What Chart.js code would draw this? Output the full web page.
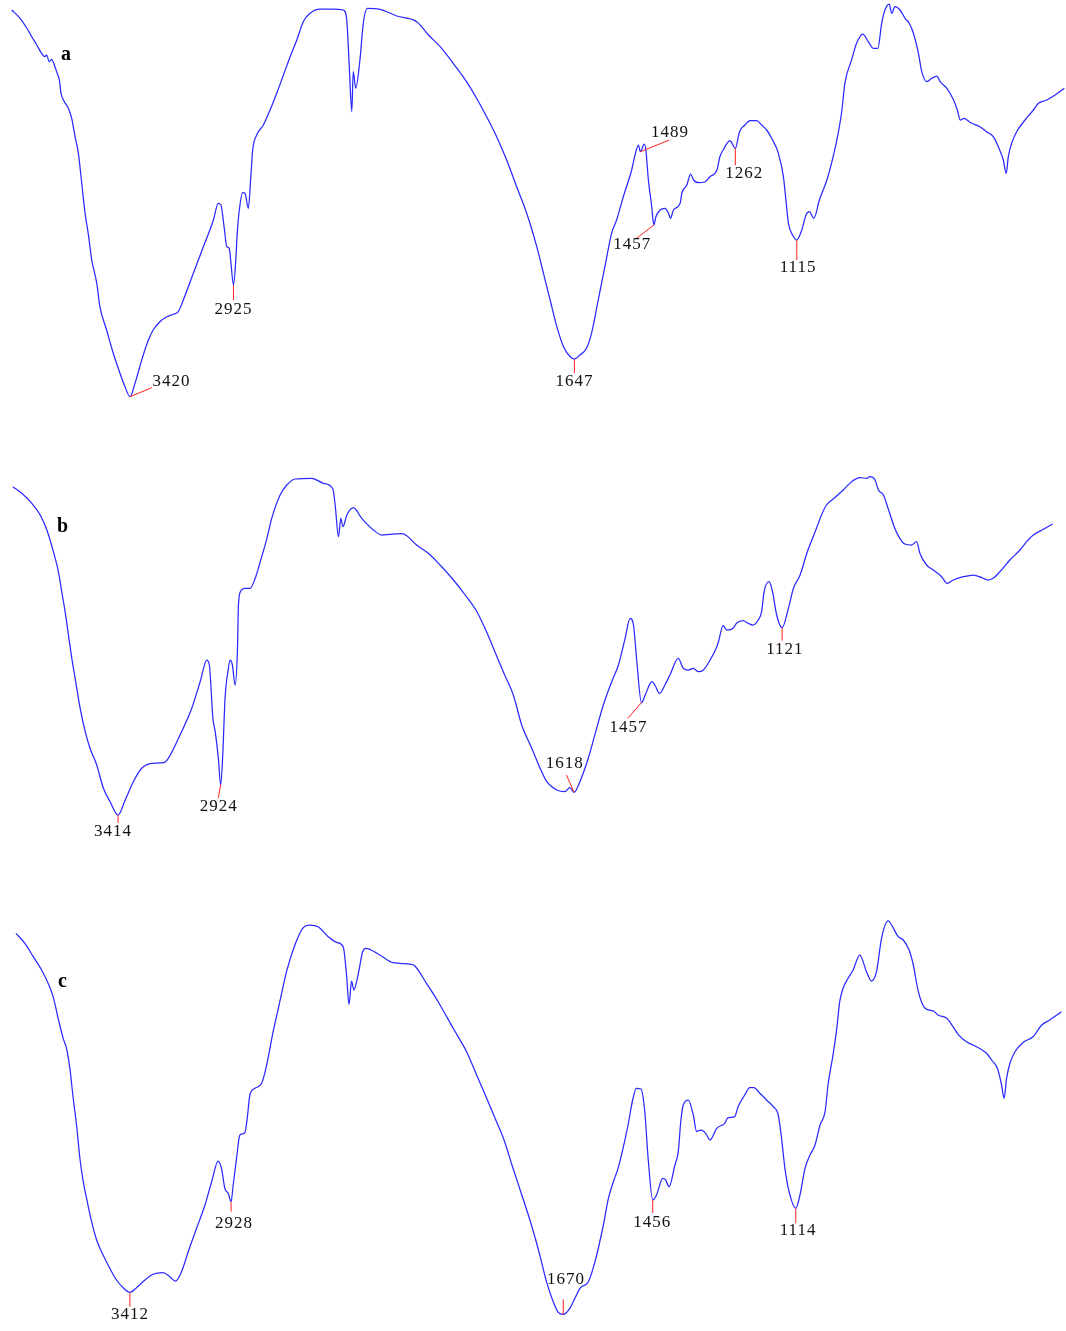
<!DOCTYPE html>
<html>
<head>
<meta charset="utf-8">
<title>FTIR spectra a, b, c</title>
<script src="https://cdn.jsdelivr.net/npm/chart.js@4.4.1/dist/chart.umd.min.js"></script>
<style>
  html, body { margin: 0; padding: 0; background: #ffffff; }
  #wrap { position: relative; width: 1066px; height: 1331px; overflow: hidden; }
  #wrap canvas { position: absolute; left: 0; }
</style>
</head>
<body>
<div id="wrap">
  <canvas id="specA" width="1066" height="420" style="top:0px"></canvas>
  <canvas id="specB" width="1066" height="420" style="top:450px"></canvas>
  <canvas id="specC" width="1066" height="431" style="top:900px"></canvas>
</div>
<script>
// ---- Spectrum a: wavenumber (cm-1) and transmittance (a.u.) ----
const aWavenumber = [3986,3946,3914,3890,3866,3843,3827,3819,3806,3795,3782,3771,3758,3750,3734,3715,3699,3683,3667,3651,3635,3620,3603,3579,3564,3532,3500,3468,3444,3420,3396,3364,3332,3309,3277,3244,3213,3189,3165,3117,3069,3021,2998,2985,2970,2957,2945,2937,2925,2914,2907,2897,2881,2870,2854,2842,2833,2814,2782,2750,2718,2686,2654,2622,2591,2559,2511,2447,2399,2383,2371,2359,2352,2340,2320,2304,2285,2224,2144,2048,1996,1968,1937,1905,1881,1857,1833,1809,1785,1761,1737,1721,1705,1689,1673,1657,1647,1634,1618,1606,1590,1574,1558,1546,1530,1510,1502,1494,1489,1480,1476,1470,1462,1457,1452,1442,1430,1422,1417,1410,1394,1390,1378,1369,1362,1350,1334,1323,1306,1299,1291,1275,1262,1252,1239,1227,1211,1199,1187,1175,1159,1147,1141,1135,1125,1115,1103,1093,1085,1074,1061,1043,1028,1016,1007,1000,984,972,957,944,932,921,912,904,894,888,880,868,856,846,836,824,816,804,792,780,772,756,740,731,724,715,708,696,677,661,645,633,621,614,609,601,589,569,549,537,517,497,475];
const aTransmittance = [410,401.7,392,383.3,375,366.7,363.3,365,358.3,360.7,355,348.3,340,326.7,318.3,311.7,301.7,283.3,266.7,236.7,206.7,186.7,160,136.7,113.3,90,66.7,46.7,33.3,23.3,36.7,60,80,90,98.3,103.3,105.7,108.3,120,146.7,173.3,200,216.7,215,193.3,173.3,171.7,156.7,135,160,186.7,210,227.3,226.7,211.7,243.3,270,285,295,310,326.7,345,363.3,380,398.3,406.7,411,411,410,400,353.3,308.3,348.3,331.7,360,396.7,411.7,410.7,404,398.3,385,373.3,356.7,338.3,321.7,303.3,283.3,260,233.3,206.7,173.3,146.7,120,93.3,73.3,63.3,61,65,71.7,86.7,120,153.3,186.7,200,223.3,250,265,275,268.3,276,270,240,213.3,195,203.3,210,211.7,206.7,201.7,210,216.7,226.7,235,246,240,237.3,238.3,243.3,250,263.3,270,279.3,271.7,288.3,295,299.3,299.3,295,290,281.7,266.7,243.3,220,196.7,185,180,190,205,208.3,201.7,220,240,263.3,286.7,310,336.7,360,376.7,386,378.3,371.7,371.7,396.7,410,416,406.7,413.3,410,401.7,396.7,386.7,366.7,348.3,338.3,341.7,344,338.3,331.7,320,310,300,301.7,300,296.7,293.3,288.3,283.3,273.3,260,246.7,263.3,276.7,288.3,300,310,316.7,320,325,331.7];
const aPeaks = [3420, 2925, 1647, 1489, 1457, 1262, 1115];

// ---- Spectrum b ----
const bWavenumber = [3917,3874,3826,3786,3754,3723,3699,3683,3667,3651,3635,3619,3595,3571,3548,3516,3484,3452,3414,3380,3341,3301,3253,3197,3174,3118,3062,3022,2990,2978,2961,2950,2935,2924,2914,2903,2887,2879,2868,2855,2844,2839,2828,2807,2783,2759,2735,2703,2680,2640,2608,2568,2488,2433,2388,2377,2361,2350,2340,2321,2290,2250,2194,2154,2114,2059,2035,1994,1966,1938,1906,1878,1850,1827,1807,1787,1763,1743,1719,1699,1683,1659,1640,1628,1618,1604,1584,1564,1548,1528,1512,1496,1484,1476,1468,1457,1448,1432,1425,1414,1401,1389,1369,1357,1345,1333,1321,1309,1293,1277,1273,1262,1253,1238,1230,1214,1202,1191,1178,1170,1164,1152,1144,1134,1121,1106,1094,1078,1062,1050,1039,1027,1015,999,975,955,935,919,911,899,891,879,868,852,840,828,812,800,792,776,760,740,727,712,688,664,644,629,617,601,577,553,537,521,497,475];
const bTransmittance = [383.3,376.7,366.7,355,340,318.3,298.3,278.3,258.3,235,211.7,191.7,161.7,138.3,121.7,105,81.7,68.3,55,70,88.3,101.7,106.7,107.3,111.7,135,161.7,188.3,210,205,151.7,138.3,111.7,85,115,171.7,201.7,210,205,185,218.3,265,279,281.7,281.7,291.7,308.3,331.7,351.7,375,385,391,391.7,386.7,381,365,333.3,351.7,343.3,355,362.3,351.7,340,335,335.7,336.3,334.3,325,316.7,305,290,275,258.3,238.3,218.3,198.3,175,145,121.7,101.7,88.3,80,78.3,82.3,77.7,88.3,111.7,141.7,165,188.3,205,231.7,251.7,245,208.3,167.3,175,188.3,185,176.7,185,195,211.7,201.7,200,201.7,198.3,200,210,223.3,228.3,244.3,240,241.7,246.7,249.3,246.7,245,250,258.3,278.3,288.3,278.3,255,242.3,261.7,281.7,295,316.7,330,341.7,355,365,371,380,388.3,392.3,391.7,393.3,390,380,375,361.7,341.7,331.7,326,325,328.3,316.7,305,300,293.3,286.7,290,293.3,295,292.3,290,291.7,298.3,310,320,328.3,335,340.7,346];
const bPeaks = [3414, 2924, 1618, 1457, 1121];

// ---- Spectrum c ----
const cWavenumber = [3957,3914,3874,3834,3803,3779,3755,3731,3715,3699,3683,3667,3651,3635,3619,3595,3571,3540,3508,3476,3444,3412,3380,3340,3301,3253,3221,3194,3165,3133,3093,3053,3021,2990,2974,2958,2942,2928,2918,2902,2886,2862,2851,2838,2814,2782,2758,2727,2695,2663,2623,2583,2551,2512,2464,2424,2392,2376,2364,2352,2341,2320,2299,2284,2217,2153,2065,2049,1997,1969,1933,1901,1877,1853,1833,1813,1790,1769,1746,1726,1710,1694,1682,1670,1654,1642,1630,1610,1594,1574,1562,1550,1539,1527,1515,1504,1495,1484,1475,1467,1456,1447,1432,1425,1417,1403,1395,1389,1383,1371,1359,1351,1343,1335,1327,1319,1303,1284,1276,1260,1252,1236,1224,1214,1200,1184,1168,1156,1148,1140,1130,1114,1104,1092,1080,1068,1056,1044,1037,1025,1016,1009,1001,989,977,961,945,933,921,909,893,885,869,857,843,833,821,805,785,774,753,738,726,706,682,658,646,632,622,616,610,602,590,570,547,526,507,479];
const cTransmittance = [397.7,387.7,374.3,361,347.7,334.3,312.7,292.7,282.7,262.7,232.7,206,172.7,149.3,132.7,109.3,91,76,62.7,51,43.3,38.7,43.3,51,56.7,58.3,54.3,50,59.3,79.3,102.7,126,149.3,170,162.7,142.7,137.7,129.3,146,172.7,196,198.3,212.7,236,242.7,247.7,266,299.3,329.3,359.3,386,403.3,406,404.3,394.3,388.7,384.3,356,326.7,350,341,357,379.3,382.7,376,368.3,366.7,365,347.7,329.3,302.7,279.3,256,232.7,212.7,192.7,162.7,136,106,76,49.3,29.3,18.7,16.7,22.7,32.7,42.7,49.3,69.3,106,132.7,149.3,162.7,182.7,206,231,242.7,242,219.3,172.7,131,136,152.7,151,144.3,166,179.3,209.3,226,231,216,199.3,201,200,196,191,202.7,207.7,213.3,214.3,224.3,236,243.3,243.3,237.7,231,224.3,216,192.7,162.7,139.3,122.7,136,162.7,176,186,206,219.3,246,276,302.7,329.3,342.7,352.7,361,376,359.3,350,359.3,392.7,410,406,394.3,391,381,366,339.3,322.7,320,316,312.7,304.3,296.7,289.3,284.3,277.7,271,262.7,246,232.7,252.7,267.7,279.3,288.7,294.3,306,311,319.3];
const cPeaks = [3412, 2928, 1670, 1456, 1114];

// Wavenumber axis: the region above 2000 cm-1 is compressed 2:1,
// as on the spectrometer printout.
const AXIS_BREAK = 2000;
function axisUnits(w) {
  return w >= AXIS_BREAK ? (4000 - w) / 2 : 1000 + (AXIS_BREAK - w);
}
function unitsToWavenumber(u) {
  return u <= 1000 ? 4000 - 2 * u : 1000 + AXIS_BREAK - u;
}
class WavenumberScale extends Chart.LinearScale {
  getPixelForValue(value) {
    const u0 = axisUnits(this.max), u1 = axisUnits(this.min);
    return this.left + (axisUnits(value) - u0) / (u1 - u0) * this.width;
  }
  getValueForPixel(pixel) {
    const u0 = axisUnits(this.max), u1 = axisUnits(this.min);
    return unitsToWavenumber(u0 + (pixel - this.left) / this.width * (u1 - u0));
  }
}
WavenumberScale.id = 'wavenumber';
WavenumberScale.defaults = Chart.LinearScale.defaults;
Chart.register(WavenumberScale);

// Red leader line and number for each labelled band, plus the panel letter.
function bandLabels(peaks, layout, letter, letterPos) {
  return {
    id: 'bandLabels',
    afterDatasetsDraw(chart) {
      const { ctx } = chart;
      const xs = chart.scales.x, ys = chart.scales.y;
      const pts = chart.data.datasets[0].data;
      ctx.save();
      peaks.forEach((wn, i) => {
        const pt = pts.find(p => p.x === wn);
        const px = xs.getPixelForValue(pt.x);
        const py = ys.getPixelForValue(pt.y);
        const g = layout[i];
        ctx.strokeStyle = '#ff2020';
        ctx.lineWidth = 1;
        ctx.beginPath();
        ctx.moveTo(px, py);
        ctx.lineTo(px + g.line[0], py + g.line[1]);
        ctx.stroke();
        ctx.fillStyle = '#111111';
        ctx.font = '17px "Liberation Serif", "Times New Roman", serif';
        ctx.letterSpacing = '1px';
        ctx.textAlign = 'center';
        ctx.textBaseline = 'middle';
        ctx.fillText(String(wn), px + g.text[0], py + g.text[1]);
      });
      ctx.letterSpacing = '0px';
      ctx.fillStyle = '#000000';
      ctx.font = 'bold 20px "Liberation Serif", "Times New Roman", serif';
      ctx.textAlign = 'left';
      ctx.textBaseline = 'alphabetic';
      ctx.fillText(letter, letterPos[0], letterPos[1]);
      ctx.restore();
    }
  };
}

function drawSpectrum(canvasId, wn, tr, xMax, xMin, yMax, plugin) {
  const points = wn.map((w, i) => ({ x: w, y: tr[i] }));
  return new Chart(document.getElementById(canvasId), {
    type: 'line',
    data: {
      datasets: [{
        data: points,
        borderColor: '#2a2aff',
        borderWidth: 1.25,
        pointRadius: 0,
        cubicInterpolationMode: 'monotone',
        fill: false
      }]
    },
    options: {
      responsive: false,
      animation: false,
      events: [],
      layout: { padding: 0 },
      plugins: { legend: { display: false }, tooltip: { enabled: false } },
      scales: {
        x: { type: 'wavenumber', min: xMin, max: xMax, bounds: 'data', display: false },
        y: { type: 'linear', min: 0, max: yMax, display: false }
      }
    },
    plugins: [plugin]
  });
}

drawSpectrum('specA', aWavenumber, aTransmittance, 4042, 471, 420,
  bandLabels(aPeaks, [
    { line: [21.7, -9], text: [41.5, -14.7] },
    { line: [0, 15], text: [0, 25] },
    { line: [0, 14], text: [0, 22.7] },
    { line: [29, -11.7], text: [29.5, -19] },
    { line: [-17.3, 13.3], text: [-21.5, 19.7] },
    { line: [0, 17], text: [9, 25.7] },
    { line: [0, 20], text: [1.3, 27.5] }
  ], 'a', [61, 60]));

drawSpectrum('specB', bWavenumber, bTransmittance, 3978, 443, 420,
  bandLabels(bPeaks, [
    { line: [0, 8], text: [-5, 17] },
    { line: [-2.4, 13], text: [-2, 22] },
    { line: [-7.6, -17.3], text: [-9.3, -28.3] },
    { line: [-13.7, 15.6], text: [-13, 25] },
    { line: [0, 13], text: [2.8, 22.3] }
  ], 'b', [57, 82]));

drawSpectrum('specC', cWavenumber, cTransmittance, 4033, 468, 431,
  bandLabels(cPeaks, [
    { line: [0, 14.4], text: [0, 22] },
    { line: [0, 10], text: [2.8, 22.3] },
    { line: [0, -15], text: [2.7, -34.3] },
    { line: [0, 13], text: [-0.6, 22.5] },
    { line: [0, 15], text: [2.3, 22.7] }
  ], 'c', [58, 87]));
</script>
</body>
</html>
